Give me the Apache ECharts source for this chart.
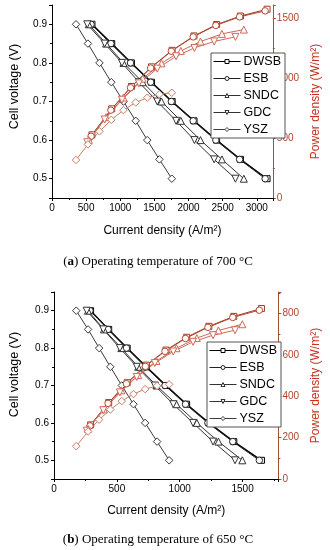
<!DOCTYPE html>
<html>
<head>
<meta charset="utf-8">
<script src="https://cdn.jsdelivr.net/npm/echarts@6/dist/echarts.min.js"></script>
<style>
html,body{margin:0;padding:0;background:#fff;}
#c{width:330px;height:550px;}
</style>
</head>
<body>
<div id="c"></div>
<script>
// Cell voltages (V) shared by every curve
var voltage = [0.9, 0.85, 0.8, 0.75, 0.7, 0.65, 0.6, 0.55, 0.5];
var names = ['DWSB', 'ESB', 'SNDC', 'GDC', 'YSZ'];

// (a) 700 °C : current density (A/m2)
var curA_DWSB = [585, 875, 1163, 1458, 1760, 2080, 2411, 2760, 3150];
var curA_ESB  = [572, 862, 1150, 1445, 1748, 2068, 2400, 2748, 3122];
var curA_SNDC = [539, 793, 1047, 1328, 1604, 1887, 2175, 2489, 2810];
var curA_GDC  = [517, 771, 1025, 1274, 1542, 1818, 2086, 2375, 2687];
var curA_YSZ  = [352, 526, 695, 869, 1047, 1226, 1395, 1573, 1755];
// (a) power density (W/m2)
var powA_DWSB = [527, 744, 930, 1094, 1232, 1352, 1447, 1518, 1575];
var powA_ESB  = [515, 733, 920, 1084, 1224, 1344, 1440, 1511, 1561];
var powA_SNDC = [485, 674, 838, 996, 1123, 1227, 1305, 1369, 1405];
var powA_GDC  = [465, 655, 820, 956, 1079, 1182, 1252, 1306, 1344];
var powA_YSZ  = [317, 447, 556, 652, 733, 797, 837, 865, 878];

// (b) 650 °C : current density (A/m2)
var curB_DWSB = [291, 435, 582, 734, 891, 1055, 1232, 1430, 1650];
var curB_ESB  = [286, 430, 576, 727, 883, 1046, 1224, 1422, 1633];
var curB_SNDC = [270, 397, 536, 670, 815, 974, 1136, 1308, 1498];
var curB_GDC  = [260, 392, 524, 658, 802, 949, 1106, 1265, 1440];
var curB_YSZ  = [177, 271, 359, 448, 539, 632, 725, 820, 916];
// (b) power density (W/m2)
var powB_DWSB = [262, 370, 466, 551, 624, 686, 739, 787, 825];
var powB_ESB  = [257, 366, 461, 545, 618, 680, 734, 782, 817];
var powB_SNDC = [243, 337, 429, 503, 571, 633, 682, 719, 749];
var powB_GDC  = [234, 333, 419, 494, 561, 617, 664, 696, 720];
var powB_YSZ  = [159, 230, 287, 336, 377, 411, 435, 451, 458];

var captionA = 'Operating temperature of 700 °C';
var captionB = 'Operating temperature of 650 °C';

var FONT = 'Liberation Sans';
var symbols = {
  DWSB: 'rect', ESB: 'circle', SNDC: 'triangle',
  GDC: 'path://M0,0 L10,0 L5,9 Z', YSZ: 'diamond'
};
var symSize = { DWSB: 6, ESB: 6.5, SNDC: 7, GDC: 7, YSZ: 7.5 };
var vColor = { DWSB: '#000000', ESB: '#222222', SNDC: '#333333', GDC: '#333333', YSZ: '#3a3a3a' };
var pColor = { DWSB: '#a33a22', ESB: '#b04a33', SNDC: '#d06858', GDC: '#d06858', YSZ: '#c77e66' };

function pairs(xs, ys) { return xs.map(function (x, i) { return [x, ys[i]]; }); }
function plain(v) { return String(v); }

var curA = { DWSB: curA_DWSB, ESB: curA_ESB, SNDC: curA_SNDC, GDC: curA_GDC, YSZ: curA_YSZ };
var powA = { DWSB: powA_DWSB, ESB: powA_ESB, SNDC: powA_SNDC, GDC: powA_GDC, YSZ: powA_YSZ };
var curB = { DWSB: curB_DWSB, ESB: curB_ESB, SNDC: curB_SNDC, GDC: curB_GDC, YSZ: curB_YSZ };
var powB = { DWSB: powB_DWSB, ESB: powB_ESB, SNDC: powB_SNDC, GDC: powB_GDC, YSZ: powB_YSZ };

var series = [];
function addSet(cur, pow, xIdx, yV, yP, suffix) {
  names.forEach(function (n) {
    series.push({
      name: n, type: 'line', xAxisIndex: xIdx, yAxisIndex: yV,
      data: pairs(cur[n], voltage), symbol: symbols[n], symbolSize: symSize[n],
      showSymbol: true, animation: false,
      lineStyle: { color: vColor[n], width: n === 'DWSB' ? 1.4 : 1 },
      itemStyle: { color: '#fff', borderColor: vColor[n], borderWidth: 1 }
    });
  });
  names.forEach(function (n) {
    series.push({
      name: n + suffix, type: 'line', xAxisIndex: xIdx, yAxisIndex: yP,
      data: pairs(cur[n], pow[n]), symbol: symbols[n], symbolSize: symSize[n],
      showSymbol: true, animation: false,
      lineStyle: { color: pColor[n], width: 1 },
      itemStyle: { color: '#fff', borderColor: pColor[n], borderWidth: 1 }
    });
  });
}
addSet(curA, powA, 0, 0, 1, ' P(a)');
addSet(curB, powB, 1, 2, 3, ' P(b)');

function xAxis(gi, max, gap) {
  return {
    type: 'value', gridIndex: gi, min: 0, max: max, interval: 500,
    name: 'Current density (A/m²)', nameLocation: 'middle', nameGap: gap,
    nameTextStyle: { fontFamily: FONT, fontSize: 12, color: '#000' },
    axisLine: { show: true, lineStyle: { color: '#000', width: 1 } },
    axisTick: { show: true, length: 3, lineStyle: { color: '#000' } },
    minorTick: { show: true, splitNumber: 2, length: 2, lineStyle: { color: '#000' } },
    splitLine: { show: false },
    axisLabel: { fontFamily: FONT, fontSize: 10, color: '#000', margin: 5, showMaxLabel: false, formatter: plain }
  };
}
function yLeft(gi, gap, shift) {
  return {
    type: 'value', gridIndex: gi, min: 0.45, max: 0.95, splitNumber: 5,
    name: 'Cell voltage (V)', nameLocation: 'middle', nameGap: gap,
    nameTextStyle: { fontFamily: FONT, fontSize: 12.5, color: '#000', padding: [0, 0, 0, shift] },
    axisLine: { show: true, lineStyle: { color: '#000', width: 1 } },
    axisTick: { show: true, length: 3, lineStyle: { color: '#000' } },
    minorTick: { show: true, splitNumber: 2, length: 2, lineStyle: { color: '#000' } },
    splitLine: { show: false },
    axisLabel: { fontFamily: FONT, fontSize: 10, color: '#000', margin: 5,
      showMinLabel: false, showMaxLabel: false,
      formatter: function (v) { return v.toFixed(1); } }
  };
}
function yRight(gi, max, interval, gap) {
  return {
    type: 'value', gridIndex: gi, position: 'right', min: 0, max: max, interval: interval,
    name: 'Power density (W/m²)', nameLocation: 'middle', nameGap: gap, nameRotate: 90,
    nameTextStyle: { fontFamily: FONT, fontSize: 12, color: '#c8341f' },
    axisLine: { show: true, lineStyle: { color: '#a5502f', width: 1 } },
    axisTick: { show: true, length: 3, lineStyle: { color: '#a5502f' } },
    minorTick: { show: true, splitNumber: 2, length: 2, lineStyle: { color: '#a5502f' } },
    splitLine: { show: false },
    axisLabel: { fontFamily: FONT, fontSize: 10, color: '#b0452e', margin: 4, showMaxLabel: false, formatter: plain }
  };
}

function legend(left, top) {
  return {
    orient: 'vertical', left: left, top: top,
    data: names, selectedMode: false,
    itemWidth: 27, itemHeight: 5, itemGap: 4,
    padding: [2, 4, 2, 2],
    borderColor: '#555', borderWidth: 1, backgroundColor: '#fff',
    itemStyle: { color: '#fff', borderWidth: 1 },
    lineStyle: { width: 1 },
    textStyle: { fontFamily: FONT, fontSize: 12.5, color: '#000', padding: [0, 0, 0, -2] }
  };
}

var CAP = 13;
var rich = { b: { fontFamily: 'Liberation Serif', fontSize: CAP, fontWeight: 'bold', fill: '#000' },
             n: { fontFamily: 'Liberation Serif', fontSize: CAP, fontWeight: 'normal', fill: '#000' } };

function caption(letter, txt, y) {
  return {
    type: 'text', x: 158, y: y,
    style: { text: '{n|(}{b|' + letter + '}{n|) ' + txt + '}', rich: rich,
             align: 'center', verticalAlign: 'middle',
             font: CAP + 'px "Liberation Serif"', fill: '#000' }
  };
}

var option = {
  backgroundColor: '#fff',
  animation: false,
  graphic: [ caption('a', captionA, 262), caption('b', captionB, 540) ],
  grid: [
    { left: 43, top: 5, width: 243, height: 193 },
    { left: 48, top: 292, width: 235, height: 187 }
  ],
  xAxis: [ xAxis(0, 3235, 27), xAxis(1, 1785, 26) ],
  yAxis: [ yLeft(0, 31, 30), yRight(0, 1610, 500, 31), yLeft(1, 33, 22), yRight(1, 905, 200, 26) ],
  legend: [ legend(211, 53), legend(207, 342) ],
  series: series
};
echarts.init(document.getElementById('c'), null, { renderer: 'canvas' }).setOption(option);
</script>
</body>
</html>
